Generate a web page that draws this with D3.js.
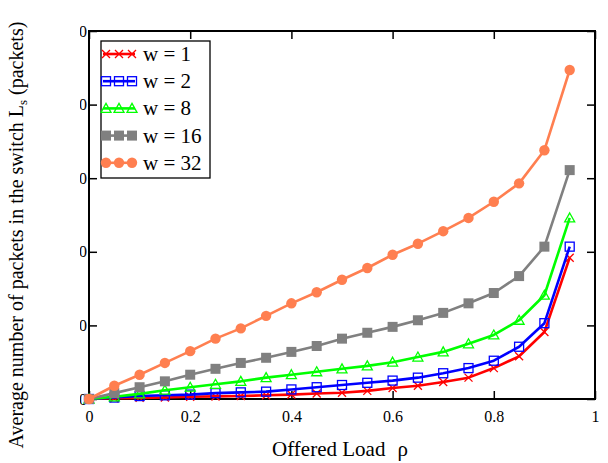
<!DOCTYPE html>
<html><head><meta charset="utf-8">
<script src="https://cdn.jsdelivr.net/npm/d3@7"></script>
<style>body{margin:0;background:#fff}svg{display:block}text{font-family:"Liberation Serif","Times New Roman",serif}</style>
</head><body><svg id="c" width="608" height="463"></svg>
<script>
const loads = [0,0.05,0.1,0.15,0.2,0.25,0.3,0.35,0.4,0.45,0.5,0.55,0.6,0.65,0.7,0.75,0.8,0.85,0.9,0.95];
const w1  = [0,0.1,0.15,0.2,0.3,0.35,0.4,0.5,0.6,0.75,0.85,1.1,1.5,1.8,2.3,2.9,4.2,5.8,9.1,19.2];
const w2  = [0,0.2,0.4,0.5,0.6,0.8,0.9,1.0,1.3,1.6,1.9,2.2,2.5,2.9,3.5,4.2,5.2,7.1,10.3,20.7];
const w8  = [0,0.3,0.7,1.2,1.6,2.0,2.4,2.9,3.3,3.7,4.1,4.5,5.0,5.7,6.4,7.5,8.7,10.7,14.1,24.6];
const w16 = [0,0.8,1.6,2.4,3.3,4.1,4.9,5.6,6.4,7.2,8.2,9.0,9.8,10.7,11.7,13.0,14.4,16.7,20.7,31.1];
const w32 = [0,1.8,3.3,4.9,6.5,8.2,9.6,11.3,13.0,14.5,16.2,17.8,19.6,21.1,22.8,24.6,26.8,29.3,33.8,44.7];
const seriesNames = ["w = 1","w = 2","w = 8","w = 16","w = 32"];
const xTicks = [0,0.2,0.4,0.6,0.8,1];
const xTickLabels = ["0","0.2","0.4","0.6","0.8","1"];
const yTicks = [0,10,20,30,40,50];
const yTickLabels = ["0","10","20","30","40","50"];

const series = [
  {name:seriesNames[0], vals:w1,  color:"#ff0000", marker:"x"},
  {name:seriesNames[1], vals:w2,  color:"#0000ff", marker:"sqOpen"},
  {name:seriesNames[2], vals:w8,  color:"#00ff00", marker:"triOpen"},
  {name:seriesNames[3], vals:w16, color:"#808080", marker:"sqFill"},
  {name:seriesNames[4], vals:w32, color:"#ff7f50", marker:"circle"}
];

const svg = d3.select("#c");
const L=89, R=595, T=31, B=399;
const x = d3.scaleLinear().domain([0,1]).range([L,R]);
const y = d3.scaleLinear().domain([0,50]).range([B,T]);

const defs = svg.append("defs");
defs.append("clipPath").attr("id","yclip")
  .append("rect").attr("x",-9).attr("y",0).attr("width",30).attr("height",463);
defs.append("clipPath").attr("id","plotclip")
  .append("rect").attr("x",L-6).attr("y",T-6).attr("width",R-L+12).attr("height",B-T+12);

// axes
const tickLen = 8;
const gx = svg.append("g").attr("transform",`translate(0,${B})`)
  .call(d3.axisBottom(x).tickValues(xTicks).tickFormat((d,i)=>xTickLabels[i]).tickSizeInner(-tickLen).tickSizeOuter(0).tickPadding(tickLen+4));
const gxt = svg.append("g").attr("transform",`translate(0,${T})`)
  .call(d3.axisTop(x).tickValues(xTicks).tickFormat("").tickSizeInner(-tickLen).tickSizeOuter(0));
const gy = svg.append("g").attr("transform",`translate(${L},0)`).attr("clip-path","url(#yclip)")
  .call(d3.axisLeft(y).tickValues(yTicks).tickFormat((d,i)=>yTickLabels[i]).tickSizeInner(-tickLen).tickSizeOuter(0).tickPadding(2));
const gyr = svg.append("g").attr("transform",`translate(${R},0)`)
  .call(d3.axisRight(y).tickValues(yTicks).tickFormat("").tickSizeInner(-tickLen).tickSizeOuter(0));
[gx,gxt,gy,gyr].forEach(g=>{
  g.select(".domain").remove();
  g.selectAll(".tick line").attr("stroke","#000").attr("stroke-width",1.5);
  g.selectAll("text").attr("fill","#000").style("font-size","16px").style("font-family",'"Liberation Serif",serif');
});
svg.append("rect").attr("x",L).attr("y",T).attr("width",R-L).attr("height",B-T)
  .attr("fill","none").attr("stroke","#000").attr("stroke-width",2);

function drawMarker(g, type, cx, cy, color){
  if(type==="x"){
    const s=4;
    g.append("path").attr("d",`M${cx-s},${cy-s}L${cx+s},${cy+s}M${cx-s},${cy+s}L${cx+s},${cy-s}`)
      .attr("stroke",color).attr("stroke-width",1.3).attr("fill","none");
  } else if(type==="sqOpen"){
    g.append("rect").attr("x",cx-4.5).attr("y",cy-4.5).attr("width",9).attr("height",9)
      .attr("fill","none").attr("stroke",color).attr("stroke-width",1.3);
  } else if(type==="triOpen"){
    g.append("path").attr("d",`M${cx},${cy-5}L${cx+5},${cy+4}L${cx-5},${cy+4}Z`)
      .attr("fill","none").attr("stroke",color).attr("stroke-width",1.3);
  } else if(type==="sqFill"){
    g.append("rect").attr("x",cx-5).attr("y",cy-5).attr("width",10).attr("height",10).attr("fill",color);
  } else {
    g.append("circle").attr("cx",cx).attr("cy",cy).attr("r",5.2).attr("fill",color);
  }
}

const line = d3.line().x(d=>x(d[0])).y(d=>y(d[1]));
const plot = svg.append("g").attr("clip-path","url(#plotclip)");
series.forEach(s=>{
  const pts = loads.map((l,i)=>[l,s.vals[i]]);
  plot.append("path").datum(pts).attr("d",line).attr("fill","none")
    .attr("stroke",s.color).attr("stroke-width",2.6).attr("stroke-linejoin","round");
  const mg = plot.append("g");
  pts.forEach(p=>drawMarker(mg, s.marker, x(p[0]), y(p[1]), s.color));
});

// legend
const lg = svg.append("g");
lg.append("rect").attr("x",101).attr("y",41).attr("width",109).attr("height",137)
  .attr("fill","#fff").attr("stroke","#000").attr("stroke-width",1.3);
series.forEach((s,i)=>{
  const cy = 54 + i*27.2;
  lg.append("line").attr("x1",103).attr("x2",135).attr("y1",cy).attr("y2",cy)
    .attr("stroke",s.color).attr("stroke-width",2.6);
  [106,119,132].forEach(cx=>drawMarker(lg, s.marker, cx, cy, s.color));
  lg.append("text").attr("x",143).attr("y",cy+7).text(s.name)
    .style("font-size","21px").attr("fill","#000");
});

// axis titles
const xt = svg.append("text").attr("x",340).attr("y",456).attr("text-anchor","middle")
  .style("font-size","21px");
xt.append("tspan").text("Offered Load");
xt.append("tspan").attr("dx",12).text("ρ");
const yt = svg.append("text").attr("transform","translate(23,235) rotate(-90)")
  .attr("text-anchor","middle").style("font-size","20px");
yt.append("tspan").text("Average number of packets in the switch L");
yt.append("tspan").attr("dy",4).style("font-size","13px").text("s");
yt.append("tspan").attr("dy",-4).text(" (packets)");
</script></body></html>
